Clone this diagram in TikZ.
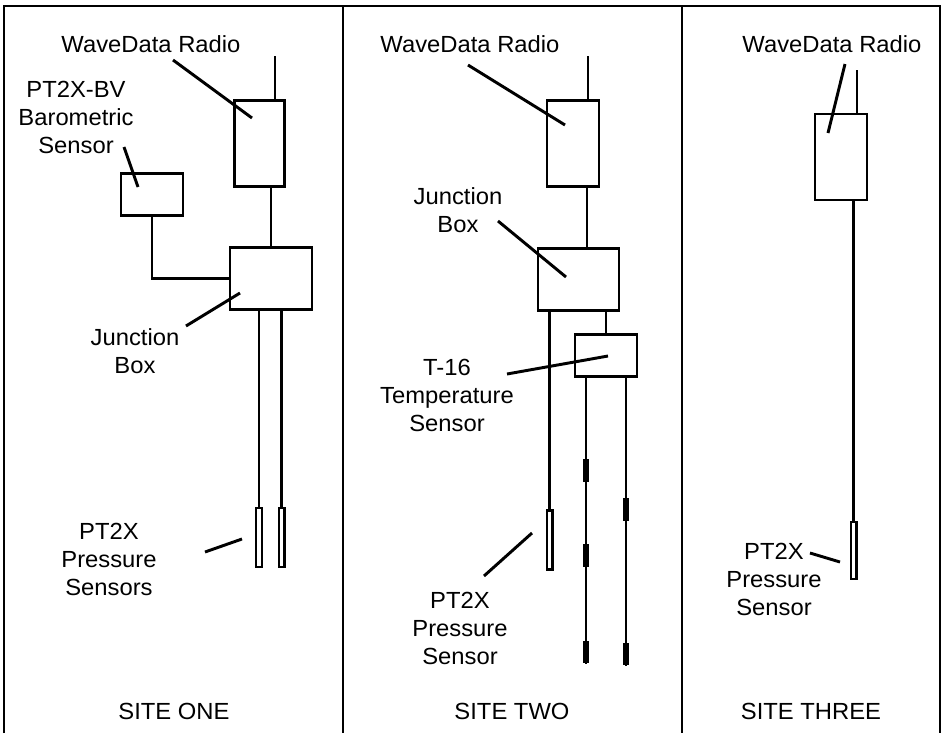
\documentclass[tikz,border=0pt]{standalone}
\usepackage{fontspec}
\setmainfont{Liberation Sans}[FakeStretch=1.02]
\usetikzlibrary{positioning,calc}

\begin{document}
\begin{tikzpicture}[x=0.75pt, y=-0.75pt,
    box/.style={rectangle, draw, line width=2.2pt, inner sep=0pt},
    sensor/.style={rectangle, draw, line width=1.8pt, inner sep=0pt,
                   minimum width=4.2pt, minimum height=44pt},
    plug/.style={rectangle, fill, inner sep=0pt, minimum width=4pt, minimum height=17pt},
    cable/.style={line width=2.2pt},
    lead/.style={line width=2.2pt},
    lbl/.style={align=center, inner sep=0pt, font=\fontsize{17.5}{21}\selectfont}]

\useasboundingbox (0,0) rectangle (947,733);

% Frame
\draw[cable] (4,733) -- (4,6) -- (940,6) -- (940,733);
\draw[cable] (343,6) -- (343,733);
\draw[cable] (682,6) -- (682,733);

% Site one
\node[box, minimum width=38pt, minimum height=64pt] (r1) at (259.5,143.5) {};
\node[box, minimum width=61.5pt, minimum height=47pt] (jb1) at (271,278.5) {};
\node[box, minimum width=46.5pt, minimum height=31pt] (bar1) at (152,194.5) {};
\node[sensor] (ps1a) at (259,537.5) {};
\node[sensor] (ps1b) at (281.5,537.5) {};
\coordinate (a1) at (275,56);

\draw[cable] (a1) -- (a1 |- r1.north);
\draw[cable] (jb1.north) -- (jb1.north |- r1.south);
\draw[cable] (bar1.south) |- (jb1.west);
\draw[cable] (ps1a.north) -- (ps1a.north |- jb1.south);
\draw[cable] (ps1b.north) -- (ps1b.north |- jb1.south);

\node[lbl] (wd1) at (151,44) {WaveData Radio};
\node[lbl] (bl1) at (76,117) {PT2X-BV\\Barometric\\Sensor};
\node[lbl] (jl1) at (135,351) {Junction\\Box};
\node[lbl] (pl1) at (109,559) {PT2X\\Pressure\\Sensors};

\coordinate (wd1p) at (173,60);  \coordinate (r1p) at (252,118);
\coordinate (bl1p) at (124,147); \coordinate (bar1p) at (138,187);
\coordinate (jl1p) at (186,326); \coordinate (jb1p) at (240,293);
\coordinate (pl1p) at (205,552); \coordinate (ps1p) at (242,539);
\draw[lead] (wd1p) -- (r1p);
\draw[lead] (bl1p) -- (bar1p);
\draw[lead] (jl1p) -- (jb1p);
\draw[lead] (pl1p) -- (ps1p);

% Site two
\node[box, minimum width=39pt, minimum height=64pt] (r2) at (573,143.5) {};
\node[box, minimum width=60.75pt, minimum height=47pt] (jb2) at (578.5,279.5) {};
\node[box, minimum width=46.5pt, minimum height=31pt] (tmp) at (606,355.5) {};
\node[sensor] (ps2) at (549.5,540) {};
\coordinate (a2) at (588,56);
\coordinate (c2) at (587,0);

\draw[cable] (a2) -- (a2 |- r2.north);
\draw[cable] (r2.south -| c2) -- (jb2.north -| c2);
\draw[cable] (tmp.north) -- (tmp.north |- jb2.south);
\draw[cable] (ps2.north) -- (ps2.north |- jb2.south);

% temperature strings
\foreach \n/\x/\y in {t1a/586/470.5, t1b/586/555.5, t1c/586/652, t2a/626/509.5, t2b/626/654}
  \node[plug] (\n) at (\x,\y) {};
\draw[cable] (t1c.south) -- (t1c.south |- tmp.south);
\draw[cable] (t2b.south) -- (t2b.south |- tmp.south);

\node[lbl] (wd2) at (470,44) {WaveData Radio};
\node[lbl] (jl2) at (458,210) {Junction\\Box};
\node[lbl] (tl2) at (447,395) {T-16\\Temperature\\Sensor};
\node[lbl] (pl2) at (460,628) {PT2X\\Pressure\\Sensor};

\coordinate (wd2p) at (468,65);  \coordinate (r2p) at (565,125);
\coordinate (jl2p) at (498,221); \coordinate (jb2p) at (566,277);
\coordinate (tl2p) at (507,374); \coordinate (tmpp) at (608,356);
\coordinate (pl2p) at (484,576); \coordinate (ps2p) at (532,533);
\draw[lead] (wd2p) -- (r2p);
\draw[lead] (jl2p) -- (jb2p);
\draw[lead] (tl2p) -- (tmpp);
\draw[lead] (pl2p) -- (ps2p);

% Site three
\node[box, minimum width=39pt, minimum height=64.5pt] (r3) at (841,157) {};
\node[sensor, minimum height=43pt] (ps3) at (853.5,550.5) {};
\coordinate (a3) at (857,70);

\draw[cable] (a3) -- (a3 |- r3.north);
\draw[cable] (ps3.north) -- (ps3.north |- r3.south);

\node[lbl] (wd3) at (832,44) {WaveData Radio};
\node[lbl] (pl3) at (774,579) {PT2X\\Pressure\\Sensor};

\coordinate (wd3p) at (845,64);  \coordinate (r3p) at (828,133);
\coordinate (pl3p) at (810,553); \coordinate (ps3p) at (840,562);
\draw[lead] (wd3p) -- (r3p);
\draw[lead] (pl3p) -- (ps3p);

% Site names
\node[lbl] (s1) at (174,711) {SITE ONE};
\node[lbl] (s2) at (512,711) {SITE TWO};
\node[lbl] (s3) at (811,711) {SITE THREE};
\end{tikzpicture}
\end{document}
